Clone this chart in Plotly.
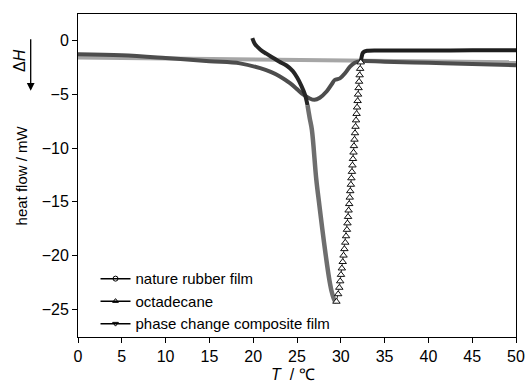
import plotly.graph_objects as go

# DSC heat-flow curves (T in degC, heat flow in mW)
rubber_T = [0, 5, 10, 15, 20, 25, 30, 35, 40, 45, 50]
rubber_H = [-1.55, -1.6, -1.65, -1.7, -1.75, -1.78, -1.82, -1.86, -1.9, -1.95, -2.0]

# octadecane: cooling onset, crystallisation drop, then the recovery branch
octa_T = [19.9, 20.2, 20.8, 21.5, 22.3, 23.0, 23.8, 24.5, 25.0, 25.5, 25.9, 26.2, 26.45,
          26.7, 27.2, 27.55, 27.9, 28.3, 28.7, 29.0, 29.3, 29.5,
          29.70, 29.83, 29.93, 30.02, 30.12, 30.22, 30.31, 30.41, 30.51, 30.60,
          30.70, 30.76, 30.83, 30.89, 30.96, 31.02, 31.08, 31.15, 31.21, 31.27,
          31.33, 31.39, 31.45, 31.50, 31.56, 31.62, 31.68, 31.74, 31.80, 31.86,
          31.92, 31.97, 32.03, 32.09, 32.15, 32.21, 32.28,
          32.38, 32.5, 32.7, 33.0, 35.0, 40.0, 45.0, 50.0]
octa_H = [0.25, -0.3, -0.8, -1.2, -1.6, -1.95, -2.3, -2.8, -3.4, -4.2, -5.0, -6.0, -7.2,
          -8.3, -12.9, -15.3, -17.6, -20.1, -22.3, -23.5, -24.2, -24.3,
          -23.6, -23.0, -22.4, -21.8, -21.2, -20.6, -20.0, -19.4, -18.8, -18.2,
          -17.6, -17.0, -16.4, -15.8, -15.2, -14.6, -14.0, -13.4, -12.8, -12.2,
          -11.6, -11.0, -10.4, -9.8, -9.2, -8.6, -8.0, -7.4, -6.8, -6.2,
          -5.6, -5.0, -4.4, -3.8, -3.2, -2.6, -2.0,
          -1.5, -1.15, -1.0, -0.92, -0.9, -0.9, -0.88, -0.88]
octa_drop_start = 11   # steep crystallisation drop begins
octa_rise_start = 21   # peak / start of the recovery branch
octa_rise_end = 59     # recovery branch rejoins the baseline

comp_T = [0, 5, 10, 15, 18.5, 20.8, 22.0, 23.0, 24.2, 25.0, 25.7, 26.4, 27.0,
          27.6, 28.4, 29.0, 29.3, 29.9, 30.5, 31.05, 31.6, 32.2, 35, 40, 45, 50]
comp_H = [-1.25, -1.35, -1.6, -1.9, -2.1, -2.55, -2.9, -3.3, -3.95, -4.5, -5.0, -5.35, -5.5,
          -5.3, -4.7, -4.0, -3.65, -3.5, -3.0, -2.4, -2.05, -1.9, -1.95, -2.05, -2.15, -2.28]

series_names = ["nature rubber film", "octadecane", "phase change composite film"]
series_symbols = ["circle-open", "triangle-up-open", "triangle-down-open"]

FONT = "Liberation Sans, Arial, sans-serif"

fig = go.Figure()

fig.add_trace(go.Scatter(x=rubber_T, y=rubber_H, mode="lines",
                         line=dict(color="#a6a6a6", width=4), showlegend=False))
fig.add_trace(go.Scatter(x=comp_T, y=comp_H, mode="lines", line_shape="spline",
                         line=dict(color="#4d4d4d", width=4), showlegend=False))

# octadecane drawn in segments: onset, dense drop, open-marker recovery, baseline
a, b, c, d = octa_drop_start, octa_rise_start, octa_rise_end, len(octa_T)
fig.add_trace(go.Scatter(x=octa_T[:a + 1], y=octa_H[:a + 1], mode="lines",
                         line_shape="spline",
                         line=dict(color="#262626", width=4), showlegend=False))
fig.add_trace(go.Scatter(x=octa_T[a:b + 1], y=octa_H[a:b + 1], mode="lines",
                         line_shape="spline",
                         line=dict(color="#6e6e6e", width=4.5), showlegend=False))
fig.add_trace(go.Scatter(x=octa_T[c - 1:d], y=octa_H[c - 1:d], mode="lines",
                         line_shape="spline",
                         line=dict(color="#1e1e1e", width=4), showlegend=False))
fig.add_trace(go.Scatter(x=octa_T[b:c], y=octa_H[b:c], mode="lines+markers",
                         line=dict(color="#333", width=1),
                         marker=dict(symbol="triangle-up", size=6.5, color="white",
                                     line=dict(color="#111", width=1)),
                         showlegend=False))

# legend entries
for name, sym in zip(series_names, series_symbols):
    fig.add_trace(go.Scatter(x=[None], y=[None], mode="lines+markers", name=name,
                             line=dict(color="black", width=1.5),
                             marker=dict(symbol=sym, size=5, color="black",
                                         line=dict(color="black", width=1))))

axis_common = dict(showline=True, linecolor="black", linewidth=1, mirror=True,
                   ticks="outside", ticklen=5, tickcolor="black", showgrid=False,
                   zeroline=False, automargin=False,
                   tickfont=dict(family=FONT, size=16, color="black"))

fig.update_layout(
    width=525, height=385,
    margin=dict(l=78, r=9, t=14, b=48),
    plot_bgcolor="white", paper_bgcolor="white",
    font=dict(family=FONT, color="black"),
    xaxis=dict(range=[0, 50], tickvals=list(range(0, 51, 5)), **axis_common),
    yaxis=dict(range=[-27.6, 2.5], tickvals=[0, -5, -10, -15, -20, -25], **axis_common),
    legend=dict(x=0.04, y=0.231, xanchor="left", yanchor="top",
                bgcolor="rgba(0,0,0,0)", font=dict(family=FONT, size=15),
                itemwidth=30, tracegroupgap=0),
    annotations=[
        dict(text="<i>T</i>  / ℃", xref="paper", yref="paper", x=0.49, y=-0.115,
             xanchor="center", yanchor="middle", showarrow=False,
             font=dict(family=FONT, size=16)),
        dict(text="heat flow / mW", xref="paper", yref="paper", x=-0.128, y=0.5,
             xanchor="center", yanchor="middle", showarrow=False, textangle=-90,
             font=dict(family=FONT, size=15)),
        dict(text="Δ<i>H</i>", xref="paper", yref="paper", x=-0.132, y=0.855,
             xanchor="center", yanchor="middle",
             showarrow=False, textangle=-90, font=dict(family=FONT, size=16)),
        dict(text="", xref="paper", yref="paper", x=-0.108, y=0.762,
             ax=0, ay=-53, showarrow=True, arrowhead=2, arrowsize=1.2,
             arrowwidth=1.3, arrowcolor="black"),
    ],
)

fig.write_html("out.html")
